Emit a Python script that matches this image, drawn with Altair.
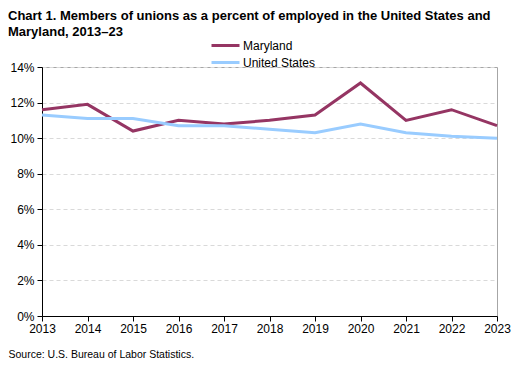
import altair as alt
import pandas as pd

years = list(range(2013, 2024))
maryland = [11.6, 11.9, 10.4, 11.0, 10.8, 11.0, 11.3, 13.1, 11.0, 11.6, 10.7]
united_states = [11.3, 11.1, 11.1, 10.7, 10.7, 10.5, 10.3, 10.8, 10.3, 10.1, 10.0]
series_names = ["Maryland", "United States"]
series_colors = ["#953563", "#99CCFF"]
y_ticks = [0, 2, 4, 6, 8, 10, 12, 14]

rows = []
for name, vals in zip(series_names, [maryland, united_states]):
    for yr, v in zip(years, vals):
        rows.append({"Year": yr, "Series": name, "Value": v})
df = pd.DataFrame(rows)

FONT = "Liberation Sans, Arial, sans-serif"

chart = alt.Chart(df).mark_line(strokeWidth=3).encode(
    x=alt.X("Year:Q",
            scale=alt.Scale(domain=[2013, 2023], nice=False, zero=False),
            axis=alt.Axis(values=years, format="d", grid=False,
                          domainColor="black", tickColor="black", tickSize=5,
                          labelFontSize=12, labelColor="black", labelPadding=2,
                          labelFlush=False,
                          title="Source: U.S. Bureau of Labor Statistics.",
                          titleX=-34, titleY=41, titleAlign="left",
                          titleBaseline="alphabetic", titleFontWeight="normal",
                          titleFontSize=10.5, titleColor="black", titleFont=FONT)),
    y=alt.Y("Value:Q",
            scale=alt.Scale(domain=[0, 14], nice=False),
            axis=alt.Axis(values=y_ticks, labelExpr="datum.value + '%'",
                          grid=True, gridDash=[4, 3], gridColor="#D9D9D9",
                          domainColor="black", tickColor="black", tickSize=5,
                          labelFontSize=12, labelColor="black", labelPadding=3,
                          title=None)),
    color=alt.Color("Series:N",
                    scale=alt.Scale(domain=series_names, range=series_colors),
                    legend=alt.Legend(title=None, orient="none",
                                      legendX=175, legendY=-30,
                                      direction="vertical",
                                      symbolType="M-2,0H2", symbolSize=196,
                                      symbolStrokeWidth=3, labelFontSize=12,
                                      labelColor="black", labelOffset=9,
                                      rowPadding=2)),
).properties(
    width=455,
    height=249,
    padding={"left": 34, "top": 59, "right": 23, "bottom": 46},
    autosize=alt.AutoSizeParams(type="none"),
    title=alt.Title(
        ["Chart 1. Members of unions as a percent of employed in the United  States and",
         "Maryland, 2013\u201323"],
        anchor="start", frame="group", dx=-34, dy=12, fontSize=13, fontWeight="bold",
        color="black", font=FONT, lineHeight=16, offset=10),
).configure(font=FONT).configure_view(stroke="#A6A6A6", strokeWidth=1)

chart.save("out.html", embed_options={"renderer": "svg", "actions": False})
